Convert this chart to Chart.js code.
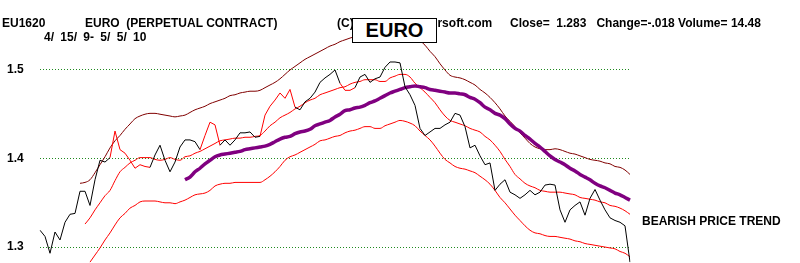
<!DOCTYPE html>
<html>
<head>
<meta charset="utf-8">
<script src="https://cdn.jsdelivr.net/npm/chart.js@4/dist/chart.umd.min.js"></script>
<style>
    body { margin: 0; background: #fff; }
    #wrap { position: relative; width: 800px; height: 263px; overflow: hidden; }
    #chart-box { position: absolute; left: 0; top: 0; width: 800px; height: 263px; }
    .lbl {
        position: absolute;
        font: bold 12px "Liberation Sans", Arial, sans-serif;
        line-height: 12px;
        color: #000;
        white-space: pre;
        z-index: 2;
    }
    #euro-box {
        position: absolute;
        left: 352px; top: 18px; width: 83px; height: 23px;
        border: 1px solid #000;
        background: #fff;
        font: bold 20px "Liberation Sans", Arial, sans-serif;
        line-height: 23px;
        text-align: center;
        z-index: 3;
    }
</style>
</head>
<body>
<div id="wrap">
    <div id="chart-box"><canvas id="euro-chart"></canvas></div>
    <div class="lbl" style="left:2px;top:17px">EU1620</div>
    <div class="lbl" style="left:85px;top:17px">EURO  (PERPETUAL CONTRACT)</div>
    <div class="lbl" style="left:44px;top:31px;word-spacing:3px">4/ 15/ 9- 5/ 5/ 10</div>
    <div class="lbl" style="left:337px;top:17px">(C) 2010</div>
    <div class="lbl" style="left:413px;top:17px">Tigersoft.com</div>
    <div class="lbl" style="left:510px;top:17px">Close=  1.283   Change=-.018 Volume= 14.48</div>
    <div id="euro-box">EURO</div>
    <div class="lbl" style="left:642px;top:215px">BEARISH PRICE TREND</div>
</div>
<script>
// daily close, sampled along the chart (4/15/09 - 5/5/10)
const price = [
    1.319, 1.312, 1.293, 1.317, 1.308, 1.328, 1.337, 1.338, 1.363, 1.363,
    1.347, 1.376, 1.398, 1.396, 1.401, 1.431, 1.410, 1.406, 1.398, 1.389,
    1.393, 1.391, 1.390, 1.404, 1.415, 1.398, 1.385, 1.396, 1.413, 1.421,
    1.421, 1.419, 1.410, 1.426, 1.441, 1.438, 1.415, 1.421, 1.415, 1.421,
    1.429, 1.429, 1.430, 1.424, 1.425, 1.449, 1.459, 1.466, 1.474, 1.468,
    1.478, 1.458, 1.455, 1.464, 1.468, 1.475, 1.486, 1.491, 1.495, 1.500,
    1.485, 1.477, 1.477, 1.480, 1.492, 1.495, 1.486, 1.490, 1.492, 1.503,
    1.509, 1.509, 1.508, 1.481, 1.472, 1.460, 1.434, 1.426, 1.430, 1.434,
    1.434, 1.438, 1.441, 1.451, 1.449, 1.436, 1.412, 1.415, 1.403, 1.393,
    1.395, 1.364, 1.371, 1.376, 1.362, 1.359, 1.355, 1.359, 1.364, 1.359,
    1.362, 1.370, 1.371, 1.370, 1.342, 1.328, 1.342, 1.347, 1.351, 1.336,
    1.355, 1.365, 1.353, 1.342, 1.333, 1.330, 1.328, 1.324, 1.283
];

// stretches of the price line drawn in red (index ranges)
const redSpans = [[14, 22], [32, 36], [44, 51], [60, 63]];

const upperBand = [...Array(8).fill(null),
    1.372, 1.373, 1.376, 1.384, 1.393, 1.402, 1.412, 1.420, 1.426, 1.433,
    1.439, 1.445, 1.448, 1.450, 1.451, 1.451, 1.450, 1.449, 1.448, 1.447,
    1.448, 1.449, 1.452, 1.455, 1.457, 1.459, 1.462, 1.464, 1.466, 1.468,
    1.471, 1.472, 1.474, 1.475, 1.476, 1.476, 1.477, 1.480, 1.483, 1.486,
    1.490, 1.495, 1.500, 1.504, 1.508, 1.512, 1.515, 1.518, 1.521, 1.524,
    1.527, 1.529, 1.532, 1.534, 1.536, 1.538, 1.542, 1.544, 1.546, 1.547,
    1.549, 1.549, 1.549, 1.547, 1.546, 1.544, 1.541, 1.537, 1.533, 1.528,
    1.521, 1.515, 1.507, 1.500, 1.494, 1.492, 1.491, 1.489, 1.486, 1.483,
    1.478, 1.474, 1.469, 1.463, 1.456, 1.448, 1.442, 1.436, 1.429, 1.423,
    1.417, 1.413, 1.411, 1.410, 1.410, 1.411, 1.410, 1.408, 1.406, 1.405,
    1.403, 1.401, 1.399, 1.398, 1.397, 1.395, 1.394, 1.391, 1.390, 1.387,
    1.382
];

const midLine = [...Array(9).fill(null),
    1.326, 1.333, 1.342, 1.350, 1.358, 1.364, 1.375, 1.385, 1.390, 1.395,
    1.398, 1.401, 1.401, 1.401, 1.399, 1.398, 1.399, 1.401, 1.399, 1.398,
    1.402, 1.403, 1.406, 1.408, 1.411, 1.414, 1.417, 1.420, 1.421, 1.422,
    1.423, 1.423, 1.424, 1.424, 1.425, 1.426, 1.431, 1.437, 1.441, 1.446,
    1.449, 1.452, 1.456, 1.459, 1.463, 1.466, 1.468, 1.472, 1.474, 1.476,
    1.478, 1.480, 1.481, 1.484, 1.486, 1.487, 1.489, 1.489, 1.489, 1.487,
    1.487, 1.491, 1.493, 1.495, 1.495, 1.492, 1.485, 1.480, 1.475, 1.469,
    1.463, 1.455, 1.448, 1.443, 1.441, 1.439, 1.437, 1.434, 1.432, 1.430,
    1.425, 1.421, 1.415, 1.408, 1.399, 1.391, 1.382, 1.377, 1.372, 1.369,
    1.367, 1.364, 1.363, 1.362, 1.362, 1.362, 1.361, 1.360, 1.359, 1.356,
    1.355, 1.354, 1.353, 1.351, 1.350, 1.347, 1.346, 1.344, 1.341, 1.337
];

const lowerBand = [...Array(10).fill(null),
    1.283, 1.291, 1.299, 1.308, 1.316, 1.325, 1.333, 1.338, 1.344, 1.347,
    1.351, 1.352, 1.352, 1.352, 1.351, 1.350, 1.350, 1.349, 1.351, 1.353,
    1.356, 1.359, 1.360, 1.361, 1.364, 1.369, 1.371, 1.372, 1.372, 1.373,
    1.373, 1.373, 1.373, 1.373, 1.373, 1.376, 1.380, 1.385, 1.391, 1.398,
    1.402, 1.404, 1.407, 1.410, 1.413, 1.416, 1.420, 1.421, 1.423, 1.425,
    1.426, 1.429, 1.431, 1.432, 1.434, 1.436, 1.436, 1.434, 1.434, 1.437,
    1.439, 1.441, 1.443, 1.442, 1.440, 1.437, 1.431, 1.426, 1.421, 1.414,
    1.406, 1.399, 1.395, 1.391, 1.389, 1.388, 1.386, 1.384, 1.380, 1.376,
    1.371, 1.364, 1.356, 1.350, 1.343, 1.336, 1.330, 1.324, 1.319, 1.316,
    1.315, 1.313, 1.312, 1.312, 1.311, 1.310, 1.309, 1.307, 1.306, 1.304,
    1.303, 1.302, 1.301, 1.300, 1.299, 1.298, 1.295, 1.293, 1.289
];

const longAvg = [...Array(29).fill(null),
    1.376, 1.379, 1.385, 1.389, 1.394, 1.398, 1.402, 1.404, 1.405, 1.406,
    1.407, 1.408, 1.410, 1.411, 1.412, 1.413, 1.414, 1.416, 1.419, 1.422,
    1.424, 1.425, 1.428, 1.430, 1.431, 1.433, 1.437, 1.439, 1.441, 1.443,
    1.447, 1.450, 1.454, 1.455, 1.457, 1.458, 1.460, 1.463, 1.465, 1.468,
    1.471, 1.474, 1.476, 1.478, 1.480, 1.481, 1.482, 1.481, 1.480, 1.478,
    1.477, 1.476, 1.475, 1.474, 1.474, 1.473, 1.472, 1.469, 1.467, 1.463,
    1.458, 1.455, 1.451, 1.449, 1.445, 1.439, 1.434, 1.431, 1.426, 1.422,
    1.417, 1.413, 1.408, 1.403, 1.399, 1.396, 1.393, 1.389, 1.386, 1.382,
    1.379, 1.376, 1.372, 1.369, 1.367, 1.364, 1.361, 1.359, 1.356, 1.353
];

const yTicks = [1.3, 1.4, 1.5];
const days = price.map((_, i) => i);

const labelFont = { family: '"Liberation Sans", Arial, sans-serif', size: 12, weight: 'bold' };

function isRed(i0, i1) {
    return redSpans.some(([a, b]) => i0 >= a && i1 <= b);
}

function bandLine(data, color, width) {
    return {
        data: data,
        borderColor: color,
        borderWidth: width,
        pointRadius: 0,
        cubicInterpolationMode: 'monotone',
        fill: false
    };
}

new Chart(document.getElementById('euro-chart'), {
    type: 'line',
    data: {
        labels: days,
        datasets: [
            {
                data: price,
                borderColor: '#000',
                borderWidth: 1,
                pointRadius: 0,
                tension: 0,
                fill: false,
                segment: {
                    borderColor: ctx => isRed(ctx.p0DataIndex, ctx.p1DataIndex) ? '#ff0000' : '#000'
                }
            },
            bandLine(longAvg, '#800080', 3.5),
            bandLine(upperBand, '#800000', 1),
            bandLine(midLine, '#ff0000', 1),
            bandLine(lowerBand, '#ff0000', 1)
        ]
    },
    options: {
        responsive: true,
        maintainAspectRatio: false,
        animation: false,
        layout: { padding: { left: 7, right: 170, top: 0, bottom: 0 } },
        plugins: { legend: { display: false }, tooltip: { enabled: false } },
        scales: {
            x: { display: false, offset: false },
            y: {
                min: 1.282,
                max: 1.579,
                afterBuildTicks: scale => { scale.ticks = yTicks.map(v => ({ value: v })); },
                afterFit: scale => {
                    scale.width = 33;
                    scale.paddingTop = 0;
                    scale.paddingBottom = 0;
                },
                ticks: {
                    color: '#000',
                    font: labelFont,
                    crossAlign: 'far',
                    padding: 0,
                    callback: v => v.toFixed(1)
                },
                grid: { color: '#1f8a1f', lineWidth: 1, drawTicks: false },
                border: { display: false, dash: [1, 2] }
            }
        }
    }
});
</script>
</body>
</html>
